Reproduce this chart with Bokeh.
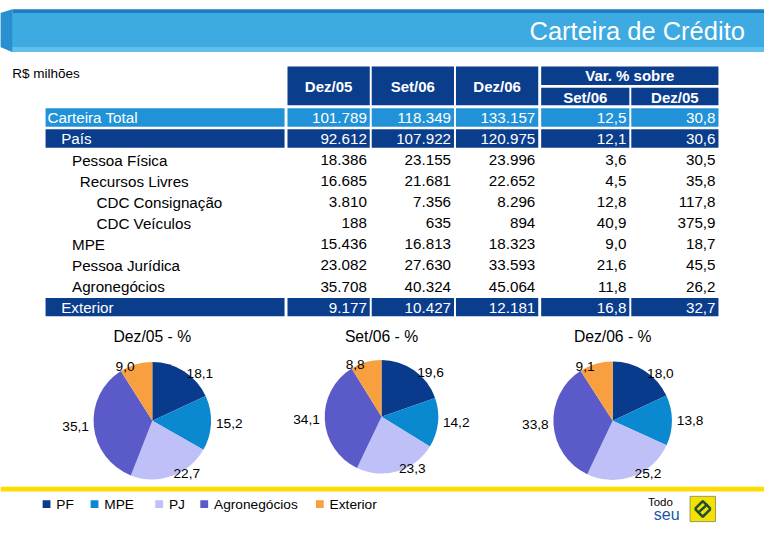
import math
from bokeh.plotting import figure
from bokeh.models import Range1d
from bokeh.core.properties import value
from bokeh.embed import file_html
from bokeh.resources import INLINE

# ---------------- data ----------------
title = "Carteira de Crédito"
unit_label = "R$ milhões"
col_headers = ["Dez/05", "Set/06", "Dez/06"]
var_header = "Var. % sobre"
var_sub = ["Set/06", "Dez/05"]

rows = ["Carteira Total", "País", "Pessoa Física", "Recursos Livres",
        "CDC Consignação", "CDC Veículos", "MPE", "Pessoa Jurídica",
        "Agronegócios", "Exterior"]
dez05 = [101789, 92612, 18386, 16685, 3810, 188, 15436, 23082, 35708, 9177]
set06 = [118349, 107922, 23155, 21681, 7356, 635, 16813, 27630, 40324, 10427]
dez06 = [133157, 120975, 23996, 22652, 8296, 894, 18323, 33593, 45064, 12181]
var_set06 = [12.5, 12.1, 3.6, 4.5, 12.8, 40.9, 9.0, 21.6, 11.8, 16.8]
var_dez05 = [30.8, 30.6, 30.5, 35.8, 117.8, 375.9, 18.7, 45.5, 26.2, 32.7]

segments = ["PF", "MPE", "PJ", "Agronegócios", "Exterior"]
pie_titles = ["Dez/05 - %", "Set/06 - %", "Dez/06 - %"]
pie_dez05 = [18.1, 15.2, 22.7, 35.1, 9.0]
pie_set06 = [19.6, 14.2, 23.3, 34.1, 8.8]
pie_dez06 = [18.0, 13.8, 25.2, 33.8, 9.1]

# ---------------- styles ----------------
FONT = value("Liberation Sans")
DARK = "#0B3D8D"
LIGHT = "#2292D8"
seg_colors = ["#0A3A8C", "#0A88D0", "#C0C0F8", "#5A5AC8", "#F8A040"]
row_level = [0, 1, 2, 3, 4, 4, 2, 2, 2, 1]
row_fill = [LIGHT, DARK, None, None, None, None, None, None, None, DARK]
indent_px = [0, 14, 25, 33, 50]


def Y(sy):
    return -sy


p = figure(width=764, height=524, x_range=Range1d(0, 780), y_range=Range1d(-540, 0),
           output_backend="svg", toolbar_location=None,
           x_axis_type=None, y_axis_type=None, min_border=0)
p.grid.visible = False
p.outline_line_color = None
p.background_fill_color = "white"
p.border_fill_color = "white"


def box(l, r, t, b, color):
    p.quad(left=l, right=r, top=Y(t), bottom=Y(b), fill_color=color, line_color=None)


def txt(x, y, s, size, color="black", align="left", baseline="middle", style="normal", font=FONT):
    p.text(x=[x], y=[Y(y)], text=[s], text_font=font, text_font_size=value(size),
           text_color=color, text_align=align, text_baseline=baseline, text_font_style=style)


# ---------------- banner ----------------
box(0, 780, 13, 48, "#3DAAE1")
box(12, 780, 9, 13, "#1F7EC2")
p.patch(x=[0, 780, 780, 12], y=[Y(48), Y(48), Y(53), Y(53)], fill_color="#62BFEC", line_color=None)
p.patch(x=[0, 12, 12, 0], y=[Y(13), Y(9), Y(53), Y(48)], fill_color="#2A8FD0", line_color=None)
txt(760, 31, title, "25.5px", color="white", align="right")

txt(12, 75, unit_label, "13.5px")

# ---------------- table ----------------
col_edges = [(293, 377), (379, 463), (465, 549), (552, 642), (644, 733)]
for (l, r), h in zip(col_edges[:3], col_headers):
    box(l, r, 68, 108, DARK)
    txt((l + r) / 2, 88.5, h, "15px", color="white", align="center", style="bold")
box(552, 733, 68, 87, DARK)
txt((552 + 733) / 2, 77.5, var_header, "15px", color="white", align="center", style="bold")
for (l, r), h in zip(col_edges[3:], var_sub):
    box(l, r, 90, 108, DARK)
    txt((l + r) / 2, 99.5, h, "15px", color="white", align="center", style="bold")


def fmt_int(v):
    return f"{v:,}".replace(",", ".")


def fmt_dec(v):
    return f"{v:.1f}".replace(".", ",")


row_top = 120.5
row_step = 21.72
for i, name in enumerate(rows):
    cy = row_top + i * row_step
    fill = row_fill[i]
    tc = "white" if fill else "black"
    if fill:
        box(46, 290, cy - 9.5, cy + 9.5, fill)
        for (l, r) in col_edges:
            box(l, r, cy - 9.5, cy + 9.5, fill)
    txt(48 + indent_px[row_level[i]], cy + 0.5, name, "15.2px", color=tc)
    vals = [fmt_int(dez05[i]), fmt_int(set06[i]), fmt_int(dez06[i]),
            fmt_dec(var_set06[i]), fmt_dec(var_dez05[i])]
    for (l, r), s in zip(col_edges, vals):
        txt(r - 3, cy + 0.5, s, "15.2px", color=tc, align="right")

# ---------------- pies ----------------
pie_geo = [(155, 433, 60), (389, 429, 58), (625, 433, 60.5)]
for (cx, cy, rad), ttl, vals in zip(pie_geo, pie_titles, [pie_dez05, pie_set06, pie_dez06]):
    total = sum(vals)
    starts, ends = [], []
    cum = 0.0
    for v in vals:
        starts.append(math.pi / 2 - 2 * math.pi * cum / total)
        cum += v
        ends.append(math.pi / 2 - 2 * math.pi * cum / total)
    p.wedge(x=[cx] * len(vals), y=[Y(cy)] * len(vals), radius=rad,
            start_angle=starts, end_angle=ends, direction="clock",
            fill_color=seg_colors, line_color=None)
    txt(cx, 346, ttl, "15.7px", align="center")
    for v, a0, a1 in zip(vals, starts, ends):
        mid = (a0 + a1) / 2
        c, s = math.cos(mid), math.sin(mid)
        lx = cx + (rad + 5) * c
        ly = cy - (rad + 4) * s * 0.9
        align = "left" if c > 0.15 else ("right" if c < -0.15 else "center")
        txt(lx, ly, fmt_dec(v), "13.7px", align=align)

# ---------------- footer ----------------
box(0, 780, 501, 506, "#FFDC00")
legend_x = [43, 92, 158, 204, 322]
for lx, name, col in zip(legend_x, segments, seg_colors):
    box(lx, lx + 8, 515, 523, col)
    txt(lx + 14, 519, name, "13.7px")

# logo
txt(661, 517, "Todo", "11.5px")
txt(667, 530, "seu", "16px", color="#1A55A5")
box(704, 730, 511, 537, "#F3E200")
p.quad(left=704, right=730, top=Y(511), bottom=Y(537), fill_color=None, line_color="#9A9A60", line_width=1)
p.multi_line(xs=[[709, 717, 725], [709, 717, 725], [712, 722]],
             ys=[[Y(524), Y(516), Y(524)], [Y(524), Y(532), Y(524)], [Y(528), Y(519)]],
             line_color="#1E4E3A", line_width=2.5)

open("out.html", "w").write(file_html(p, INLINE))
